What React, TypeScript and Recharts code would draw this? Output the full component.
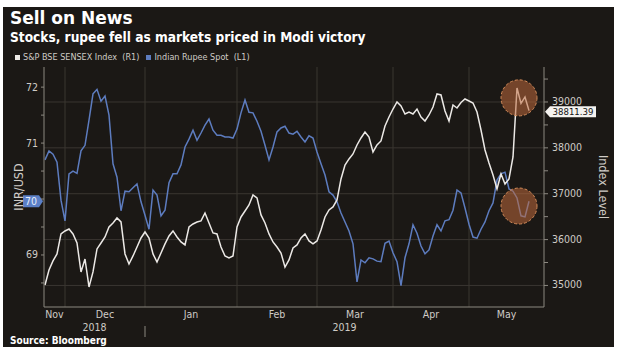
import { LineChart, Line, XAxis, YAxis, ReferenceLine, ReferenceDot } from 'recharts';

// daily closes, Nov 22 2018 .. May 23 2019 (one per trading day)
const sensex = [
  35011, 35338, 35534, 35687, 36123, 36188, 36231, 36123, 35926, 35294,
  35577, 34967, 35294, 35796, 35926, 36057, 36275, 36362, 36471, 36384,
  35687, 35468, 35643, 35839, 36035, 36166, 36035, 35687, 35512, 35708,
  35905, 36079, 36188, 36057, 35948, 35883, 36275, 36340, 36384, 36406,
  36580, 36362, 36144, 36123, 35839, 35643, 35599, 35643, 36275, 36493,
  36624, 36755, 36973, 36908, 36537, 36362, 36123, 35948, 35839, 35708,
  35400, 35556, 35817, 35883, 36035, 36123, 35970, 35905, 35970, 36210,
  36493, 36646, 36711, 36864, 37322, 37627, 37758, 37867, 38063, 38215,
  38346, 38237, 37910, 38063, 38150, 38477, 38673, 38847, 39000, 38913,
  38738, 38782, 38738, 38847, 38673, 38586, 38717, 38891, 39174, 39153,
  38804, 38586, 38935, 38869, 38990, 39065, 39022, 38978, 38782, 38390,
  37954, 37670, 37409, 37103, 37431, 37213, 37322, 37801, 39305, 38970,
  39110, 38811.39,
];

const inr = [
  70.7, 70.86, 70.8, 70.66, 69.98, 69.61, 70.45, 70.5, 70.46, 70.86,
  70.96, 71.41, 71.88, 71.96, 71.75, 71.84, 71.5, 70.63, 70.39, 69.79,
  70.14, 70.13, 70.2, 70.27, 69.95, 69.71, 69.46, 70.16, 70.07, 69.7,
  69.8, 70.29, 70.45, 70.45, 70.61, 70.93, 71.07, 71.23, 71.05, 71.18,
  71.32, 71.43, 71.23, 71.14, 71.14, 71.11, 71.11, 71.09, 71.25, 71.54,
  71.77, 71.55, 71.54, 71.39, 71.21, 70.96, 70.7, 70.93, 71.2, 71.27,
  71.3, 71.18, 71.16, 71.21, 71.11, 71.02, 71.13, 71.09, 70.84, 70.63,
  70.43, 70.13, 70.07, 69.95, 69.75, 69.59, 69.43, 69.2, 68.52, 68.91,
  68.86, 68.95, 68.93, 68.89, 68.88, 69.21, 69.25, 69.04, 68.88, 68.45,
  68.95, 69.2, 69.54, 69.39, 69.16, 69.02, 69.09, 69.34, 69.54, 69.43,
  69.61, 69.63, 69.8, 70.16, 70.11, 69.84, 69.55, 69.32, 69.3, 69.46,
  69.59, 69.79, 69.93, 70.34, 70.45, 70.48, 70.18, 70.14, 70.02, 69.7,
  69.68, 69.96,
];

const months = ['Nov', 'Dec', 'Jan', 'Feb', 'Mar', 'Apr', 'May'];
const monthStarts = [5, 25, 48, 68, 87, 106]; // day index where Dec..May begin
const years = ['2018', '2019'];
const yearStart = 25;

const inrTicks = [68.5, 69, 69.5, 70, 70.5, 71, 71.5, 72];
const sensexTicks = [35000, 35500, 36000, 36500, 37000, 37500, 38000, 38500, 39000, 39500];

// highlighted "election" window
const circleAt = { day: 118.5, sensex: 39090, inr: 69.875 };

const xDomain: [number, number] = [-0.25, 124.75];
const data = sensex.map((s, i) => ({ day: i, sensex: s, inr: inr[i] }));
const lastSensex = sensex[sensex.length - 1];
const lastInr = inr[inr.length - 1];

const edges = [xDomain[0], ...monthStarts, xDomain[1]];
const monthCenters = months.map((_, i) => (edges[i] + edges[i + 1]) / 2);
const yearCenters = [(xDomain[0] + yearStart) / 2, (yearStart + xDomain[1]) / 2];

const BG = '#1b1815';
const GRID = '#3a3631';
const AXIS = '#8c8880';
const TXT = '#cfcbc6';
const WHITE = '#ece9e6';
const BLUE = '#5d7cbf';
const FONT = "'DejaVu Sans Condensed', 'DejaVu Sans', sans-serif";

const LeftTick = ({ x, y, payload }: any) => {
  const v = payload.value;
  if (!Number.isInteger(v) || Math.abs(v - lastInr) < 0.3) return null;
  return (
    <text x={x} y={y} dy={3.5} textAnchor="end" fill={TXT} fontSize={10.5} fontFamily={FONT}>{v}</text>
  );
};

const RightTick = ({ x, y, payload }: any) => {
  const v = payload.value;
  if (v % 1000 !== 0) return null;
  return (
    <text x={x} y={y} dy={3} textAnchor="start" fill={TXT} fontSize={10.5} fontFamily={FONT}>{v}</text>
  );
};

const MonthTick = ({ x, y, index }: any) => (
  <text x={x} y={y} dy={7} textAnchor="middle" fill={TXT} fontSize={10.5} fontFamily={FONT}>{months[index]}</text>
);

const YearTick = ({ x, y, payload, index }: any) => {
  if (payload.value === yearStart) return <line x1={x} x2={x} y1={y + 3} y2={y + 14} stroke={AXIS} />;
  return (
    <text x={x} y={y} dy={8} textAnchor="middle" fill={TXT} fontSize={10.5} fontFamily={FONT}>{years[index]}</text>
  );
};

const SensexTag = ({ viewBox }: any) => {
  const x = viewBox.x + viewBox.width + 1;
  const y = viewBox.y + 1;
  const w = 46;
  return (
    <g>
      <path d={`M${x},${y} L${x + 5},${y - 5.5} L${x + 5 + w},${y - 5.5} L${x + 5 + w},${y + 5.5} L${x + 5},${y + 5.5} Z`} fill="#f4f2ef" />
      <text x={x + 5 + w / 2} y={y} dy={3.3} textAnchor="middle" fill="#111" fontSize={9.5} fontFamily={FONT}>{lastSensex.toFixed(2)}</text>
    </g>
  );
};

const InrTag = ({ viewBox }: any) => {
  const x = viewBox.x - 1;
  const y = viewBox.y;
  const w = 16;
  return (
    <g>
      <path d={`M${x},${y} L${x - 4},${y - 6} L${x - 4 - w},${y - 6} L${x - 4 - w},${y + 6} L${x - 4},${y + 6} Z`} fill="#5b7fc6" />
      <text x={x - 4 - w / 2} y={y} dy={3.5} textAnchor="middle" fill="#e6edfb" fontSize={10.5} fontFamily={FONT}>{lastInr.toFixed(0)}</text>
    </g>
  );
};

const AxisTitle = ({ viewBox, side }: any) => {
  const cy = viewBox.y + viewBox.height / 2;
  const cx = side === 'left' ? viewBox.x - 2 : viewBox.x + 59;
  return (
    <text x={cx} y={cy} textAnchor="middle" dominantBaseline="central" fill={TXT} fontSize={12.5} fontFamily={FONT}
      transform={`rotate(${side === 'left' ? -90 : 90} ${cx} ${cy})`}>
      {side === 'left' ? 'INR/USD' : 'Index Level'}
    </text>
  );
};

export default function App() {
  return (
    <div style={{ position: 'absolute', left: 0, top: 0, width: 620, height: 355, background: '#fff', overflow: 'hidden' }}>
      <div style={{ position: 'absolute', left: 3, top: 7, width: 611, height: 340, background: BG }} />
      <div style={{ position: 'absolute', left: 10, top: 10, color: '#fff', fontFamily: "'DejaVu Sans', sans-serif", fontWeight: 700, fontSize: 17, lineHeight: '17px' }}>
        Sell on News
      </div>
      <div style={{ position: 'absolute', left: 10, top: 30, color: '#fff', fontFamily: FONT, fontWeight: 700, fontSize: 13.6, lineHeight: '14px' }}>
        Stocks, rupee fell as markets priced in Modi victory
      </div>
      <div style={{ position: 'absolute', left: 15, top: 52, color: TXT, fontFamily: FONT, fontSize: 9, lineHeight: '10px', whiteSpace: 'pre', display: 'flex', alignItems: 'center' }}>
        <span style={{ width: 5, height: 5, background: WHITE, marginRight: 3 }} />
        <span>S&amp;P BSE SENSEX Index  (R1)  </span>
        <span style={{ width: 5, height: 5, background: BLUE, marginRight: 3, marginLeft: 2 }} />
        <span>Indian Rupee Spot  (L1)</span>
      </div>
      <div style={{ position: 'absolute', left: 10, top: 336, color: '#fff', fontFamily: FONT, fontWeight: 700, fontSize: 10, lineHeight: '10px' }}>
        Source: Bloomberg
      </div>
      <div style={{ position: 'absolute', left: 0, top: 0 }}>
        <LineChart width={620} height={355} data={data} margin={{ top: 67, right: 10, bottom: 18, left: 20 }}>
          <XAxis dataKey="day" type="number" domain={xDomain} allowDataOverflow ticks={monthStarts} interval={0}
            tick={false} tickSize={4} height={4} stroke={AXIS} />
          <XAxis xAxisId="m" dataKey="day" type="number" domain={xDomain} allowDataOverflow ticks={monthCenters} interval={0}
            axisLine={false} tickLine={false} tickSize={0} tickMargin={0} height={12} tick={<MonthTick />} />
          <XAxis xAxisId="y" dataKey="day" type="number" domain={xDomain} allowDataOverflow ticks={[...yearCenters, yearStart]} interval={0}
            axisLine={false} tickLine={false} tickSize={0} tickMargin={0} height={14} tick={<YearTick />} />
          <YAxis yAxisId="left" orientation="left" width={24} domain={[68.07, 72.36]} allowDataOverflow ticks={inrTicks} interval={0}
            stroke={AXIS} tickSize={3} tickMargin={3} tick={<LeftTick />} label={<AxisTitle side="left" />} />
          <YAxis yAxisId="right" orientation="right" width={66} domain={[34530, 39763]} allowDataOverflow ticks={sensexTicks} interval={0}
            stroke={AXIS} tickSize={4} tickMargin={4} tick={<RightTick />} label={<AxisTitle side="right" />} />

          {[35000, 36000, 37000, 38000, 39000].map((v) => (
            <ReferenceLine key={`h${v}`} yAxisId="right" y={v} stroke={GRID} strokeWidth={1} />
          ))}
          {monthStarts.map((d) => (
            <ReferenceLine key={`v${d}`} yAxisId="left" x={d} stroke={GRID} strokeWidth={1} />
          ))}

          <Line yAxisId="left" dataKey="inr" type="linear" stroke={BLUE} strokeWidth={1.5} dot={false} isAnimationActive={false} />
          <Line yAxisId="right" dataKey="sensex" type="linear" stroke={WHITE} strokeWidth={1.5} dot={false} isAnimationActive={false} />

          <ReferenceDot yAxisId="right" x={circleAt.day} y={circleAt.sensex} r={18} fill="rgb(190,105,60)" fillOpacity={0.55}
            stroke="#d48c5a" strokeDasharray="3 2" />
          <ReferenceDot yAxisId="left" x={circleAt.day} y={circleAt.inr} r={18} fill="rgb(190,105,60)" fillOpacity={0.55}
            stroke="#d48c5a" strokeDasharray="3 2" />

          <ReferenceLine yAxisId="right" y={lastSensex} stroke="none" label={<SensexTag />} />
          <ReferenceLine yAxisId="left" y={lastInr} stroke="none" label={<InrTag />} />
        </LineChart>
      </div>
    </div>
  );
}
